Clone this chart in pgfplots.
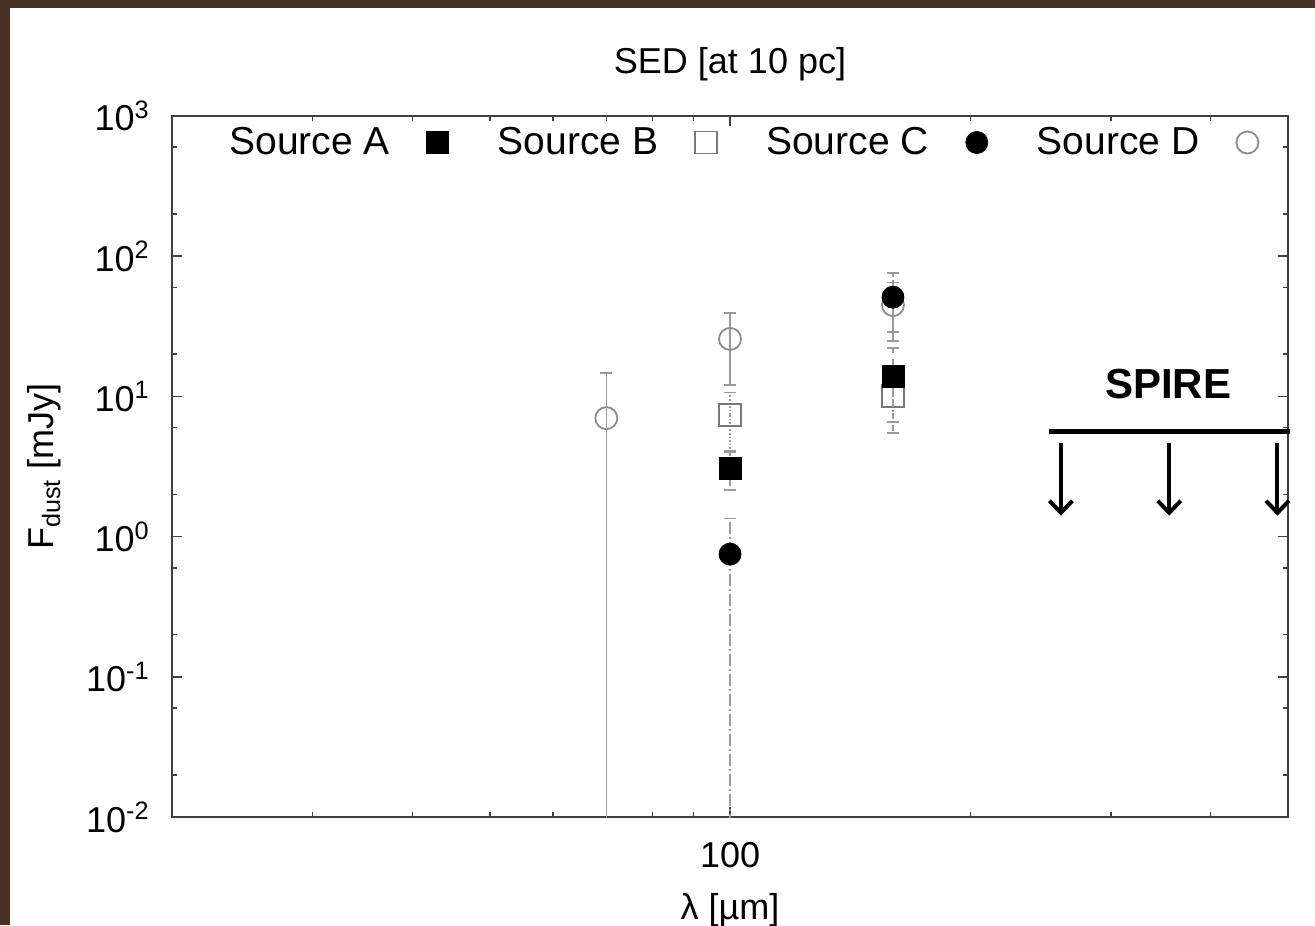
\documentclass[border=0pt]{standalone}
\usepackage{fontspec}
\setmainfont{Liberation Sans}
\usepackage{pgfplots}
\pgfplotsset{compat=1.18}
\usetikzlibrary{arrows.meta}
\definecolor{bgbrown}{RGB}{72,50,38}
\definecolor{mgray}{RGB}{120,120,120}
\begin{document}
\begin{tikzpicture}[x=1pt,y=1pt]
\fill[bgbrown] (-86,-54) rectangle (571.5,408.5);
\fill[white] (-81,-54) rectangle (571.5,404.5);
\begin{axis}[
  at={(0,0)}, anchor=south west,
  scale only axis, width=558pt, height=350.5pt,
  xmode=log, ymode=log,
  xmin=20, xmax=500, ymin=1e-2, ymax=1e3,
  xtick={100}, xticklabels={100},
  minor xtick={20,30,40,50,60,70,80,90,200,300,400,500},
  ytick={1e-2,1e-1,1,10,100,1000},
  yticklabels={10\textsuperscript{-2},10\textsuperscript{-1},10\textsuperscript{0},10\textsuperscript{1},10\textsuperscript{2},10\textsuperscript{3}},
  minor ytick={0.02,0.06,0.2,0.6,2,6,20,60,200,600},
  tick align=inside,
  major tick length=5pt, minor tick length=2.5pt,
  axis line style={draw=black!75, line width=1pt},
  every tick/.style={black!75, line width=0.8pt},
  tick label style={font=\fontsize{18}{20}\selectfont},
  xticklabel style={anchor=base, inner sep=0pt, yshift=-25pt},
  yticklabel style={anchor=base east, inner sep=0pt, xshift=-11pt, yshift=-7.5pt},
  title={SED [at 10 pc]},
  title style={at={(axis description cs:0.5,0)}, anchor=base, yshift=365.5pt, font=\fontsize{18}{20}\selectfont, inner sep=0pt},
  xlabel={λ [µm]},
  xlabel style={at={(axis description cs:0.5,0)}, anchor=base, yshift=-51pt, font=\fontsize{18}{20}\selectfont, inner sep=0pt},
  ylabel={F\textsubscript{dust} [mJy]},
  ylabel style={at={(axis description cs:-0.106,0.5)}, anchor=base, font=\fontsize{18}{20}\selectfont, inner sep=0pt},
  clip mode=individual,
  legend plot pos=right,
  legend columns=4,
  reverse legend,
  legend style={draw=none, fill=none, at={(axis description cs:0.0475,0.99)}, anchor=north west,
    font=\fontsize{19.5}{22}\selectfont, inner sep=0pt,
    /tikz/every odd column/.append style={column sep=16.5pt},
    /tikz/every even column/.append style={column sep=22.5pt}},
]
% Source D (open gray circles)
\addplot[only marks, mark=o, mark size=5.5pt, draw=mgray, mark options={line width=0.9pt, draw=gray!90},
  error bars/.cd, y dir=both, y explicit,
  error bar style={gray!80, line width=0.8pt}, error mark options={rotate=90, mark size=3pt, gray!80, line width=0.8pt}]
coordinates {
(70,7.0) += (0,7.7) -= (0,6.999)
(100,25.7) += (0,13.6) -= (0,13.6)
(160,44.8) += (0,20) -= (0,20)
};
\addlegendentry{Source D}
% Source C (filled black circles)
\addplot[only marks, mark=*, mark size=5.5pt, black,
  error bars/.cd, y dir=both, y explicit,
  error bar style={gray!80, line width=0.8pt, dash pattern=on 6pt off 1.5pt on 1pt off 1.5pt}, error mark options={rotate=90, mark size=3pt, gray!80, line width=0.8pt, solid}]
coordinates {
(100,0.75) += (0,0.6) -= (0,0.749)
(160,51) += (0,24.6) -= (0,22.2)
};
\addlegendentry{Source C}
% Source B (open gray squares)
\addplot[only marks, mark=square, mark size=5.5pt, draw=mgray, mark options={line width=0.9pt, draw=mgray},
  error bars/.cd, y dir=both, y explicit,
  error bar style={gray!80, line width=0.8pt, densely dotted}, error mark options={rotate=90, mark size=3pt, gray!80, line width=0.8pt, solid}]
coordinates {
(100,7.37) += (0,3.3) -= (0,3.3)
(160,10.1) += (0,3.5) -= (0,3.5)
};
\addlegendentry{Source B}
% Source A (filled black squares)
\addplot[only marks, mark=square*, mark size=5.5pt, black,
  error bars/.cd, y dir=both, y explicit,
  error bar style={gray!80, line width=0.8pt, dashed}, error mark options={rotate=90, mark size=3pt, gray!80, line width=0.8pt, solid}]
coordinates {
(100,3.08) += (0,0.92) -= (0,0.92)
(160,13.8) += (0,8.3) -= (0,8.3)
};
\addlegendentry{Source A}
% SPIRE annotation
\node[anchor=base, font=\fontsize{21}{24}\selectfont\bfseries, inner sep=0pt] at (axis cs:354,9.68) {SPIRE};
\draw[line width=2.4pt] (axis cs:251,5.62) -- (axis cs:503,5.62);
\draw[line width=2pt, -{Straight Barb[length=6pt,width=11.5pt,line width=2pt]}] (axis cs:259.7,4.62) -- (axis cs:259.7,1.41);
\draw[line width=2pt, -{Straight Barb[length=6pt,width=11.5pt,line width=2pt]}] (axis cs:355,4.62) -- (axis cs:355,1.41);
\draw[line width=2pt, -{Straight Barb[length=6pt,width=11.5pt,line width=2pt]}] (axis cs:485,4.62) -- (axis cs:485,1.41);
\end{axis}
\pgfresetboundingbox
\useasboundingbox (-86,-54) rectangle (571.5,408.5);
\end{tikzpicture}
\end{document}
